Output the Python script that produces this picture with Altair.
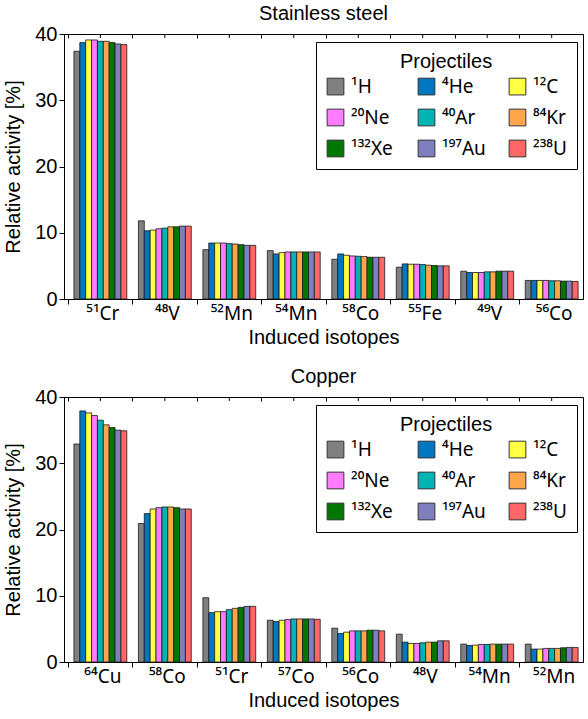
import altair as alt
import pandas as pd

projectiles = ["¹H", "⁴He", "¹²C", "²⁰Ne", "⁴⁰Ar", "⁸⁴Kr", "¹³²Xe", "¹⁹⁷Au", "²³⁸U"]
proj_colors = ["#808080", "#0077c0", "#ffff44", "#ff7bff", "#00b4b4",
               "#ffa64d", "#007800", "#7f7fbf", "#ff6666"]

# Stainless steel: rows = isotopes, columns = projectiles (same order as above)
steel_isotopes = ["⁵¹Cr", "⁴⁸V", "⁵²Mn", "⁵⁴Mn", "⁵⁸Co", "⁵⁵Fe", "⁴⁹V", "⁵⁶Co"]
steel_values = [
    [37.4, 38.7, 39.1, 39.1, 38.9, 38.9, 38.7, 38.5, 38.4],
    [11.8, 10.3, 10.4, 10.6, 10.7, 10.9, 10.9, 11.0, 11.0],
    [7.45, 8.45, 8.45, 8.45, 8.35, 8.3, 8.2, 8.1, 8.1],
    [7.3, 6.8, 7.0, 7.1, 7.1, 7.1, 7.1, 7.1, 7.1],
    [6.0, 6.8, 6.6, 6.5, 6.45, 6.4, 6.3, 6.3, 6.3],
    [4.8, 5.3, 5.25, 5.25, 5.2, 5.1, 5.05, 5.0, 5.0],
    [4.2, 4.0, 4.0, 4.0, 4.1, 4.1, 4.2, 4.2, 4.2],
    [2.8, 2.8, 2.8, 2.8, 2.75, 2.75, 2.7, 2.7, 2.65],
]

# Copper
copper_isotopes = ["⁶⁴Cu", "⁵⁸Co", "⁵¹Cr", "⁵⁷Co", "⁵⁶Co", "⁴⁸V", "⁵⁴Mn", "⁵²Mn"]
copper_values = [
    [32.9, 37.9, 37.6, 37.2, 36.5, 35.8, 35.4, 35.0, 34.9],
    [20.9, 22.4, 23.1, 23.3, 23.4, 23.4, 23.3, 23.1, 23.1],
    [9.7, 7.45, 7.6, 7.6, 7.9, 8.1, 8.25, 8.4, 8.4],
    [6.3, 6.1, 6.3, 6.4, 6.5, 6.5, 6.5, 6.5, 6.45],
    [5.1, 4.3, 4.5, 4.7, 4.7, 4.7, 4.8, 4.8, 4.7],
    [4.2, 3.0, 2.8, 2.8, 2.9, 3.0, 3.0, 3.2, 3.2],
    [2.7, 2.5, 2.55, 2.65, 2.65, 2.7, 2.7, 2.7, 2.7],
    [2.7, 1.95, 1.95, 2.05, 2.05, 2.05, 2.15, 2.2, 2.2],
]

FONT = "Liberation Sans"
SUPFONT = "Noto Sans"
W, H = 519, 265


def panel(title, isotopes, rows):
    records = []
    for iso, vals in zip(isotopes, rows):
        for p, v in zip(projectiles, vals):
            records.append({"isotope": iso, "projectile": p, "value": v})
    df = pd.DataFrame(records)
    xscale = alt.Scale(paddingInner=0.18, paddingOuter=0.115, align=0.67)
    bars = alt.Chart(df).mark_bar(stroke="#1a1a1a", strokeWidth=0.8).encode(
        x=alt.X("isotope:N", sort=isotopes, scale=xscale,
                axis=alt.Axis(title="Induced isotopes", labelAngle=0, bandPosition=0,
                              ticks=True, tickOffset=-6, labelOffset=8, tickSize=5,
                              labelFont=SUPFONT, labelFontSize=19, titleFontSize=20,
                              titleFontWeight="normal", labelPadding=0, titlePadding=4,
                              domainColor="black", tickColor="black", labelColor="black",
                              titleColor="black")),
        xOffset=alt.XOffset("projectile:N", sort=projectiles,
                            scale=alt.Scale(paddingInner=0, paddingOuter=0)),
        y=alt.Y("value:Q", scale=alt.Scale(domain=[0, 40]),
                axis=alt.Axis(title="Relative activity [%]", values=[0, 10, 20, 30, 40],
                              grid=False, tickSize=5, labelFontSize=20, titleFontSize=20,
                              titleFontWeight="normal", labelPadding=2, titlePadding=11,
                              domainColor="black", tickColor="black", labelColor="black",
                              titleColor="black")),
        color=alt.Color("projectile:N", sort=projectiles,
                        scale=alt.Scale(domain=projectiles, range=proj_colors),
                        legend=alt.Legend(title="Projectiles", orient="none", legendX=252,
                                          legendY=8, columns=3, direction="horizontal",
                                          gridAlign="all", symbolType="square",
                                          symbolSize=280, symbolStrokeColor="#333333",
                                          symbolStrokeWidth=1, labelFont=SUPFONT,
                                          labelFontSize=19, titleFontSize=20,
                                          titleFontWeight="normal", titleAnchor="middle",
                                          titlePadding=5, strokeColor="black",
                                          fillColor="white", padding=10, rowPadding=10,
                                          columnPadding=21, labelOffset=6,
                                          labelColor="black", titleColor="black")),
    )
    # small inward ticks along the top border (group centres + gaps)
    top_ticks = alt.Chart(pd.DataFrame({"isotope": isotopes})).mark_rule(
        color="black", strokeWidth=1
    ).encode(
        x=alt.X("isotope:N", sort=isotopes, scale=xscale,
                axis=alt.Axis(orient="top", title=None, labels=False, domain=False,
                              bandPosition=0, ticks=True, tickOffset=-6, tickSize=4,
                              offset=-4, tickColor="black")),
        y=alt.value(0), y2=alt.value(4),
    )
    return alt.layer(bars, top_ticks).resolve_axis(x="independent").properties(
        width=W, height=H,
        title=alt.TitleParams(title, fontSize=20, fontWeight="normal",
                              anchor="middle", offset=0, color="black"))


top = panel("Stainless steel", steel_isotopes, steel_values)
bottom = panel("Copper", copper_isotopes, copper_values)

chart = alt.vconcat(top, bottom, spacing=18).resolve_legend(color="independent").configure(
    font=FONT, padding={"left": 3, "top": 3, "right": 0, "bottom": 0}
).configure_view(stroke="black", strokeWidth=1).configure_axis(
    labelFont=FONT, titleFont=FONT
).configure_legend(titleFont=FONT).configure_title(font=FONT)

chart.save("out.html", embed_options={"renderer": "svg", "actions": False})
